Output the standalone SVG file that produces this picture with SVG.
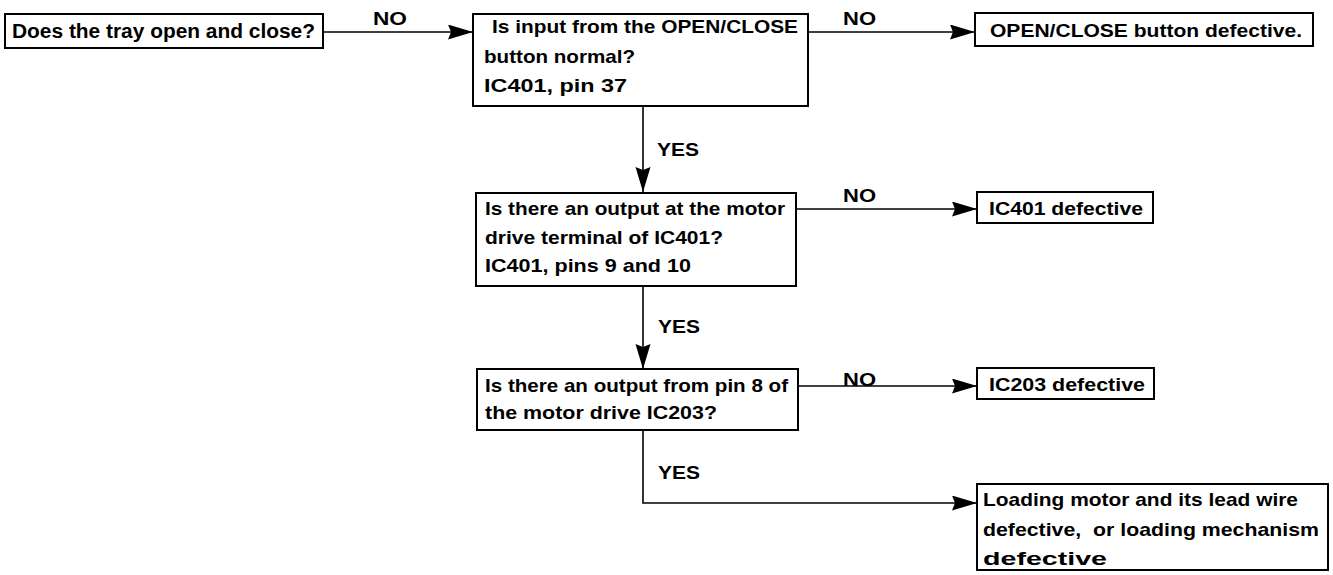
<svg xmlns="http://www.w3.org/2000/svg" width="1333" height="575" viewBox="0 0 1333 575">
<style>
.box{fill:#fff;stroke:#000;stroke-width:2}
.t{font-family:"Liberation Sans",Arial,sans-serif;font-weight:bold;font-size:19px;fill:#000}
.t1{font-size:20px}
.pre{white-space:pre}
.c{fill:none;stroke:#000;stroke-width:1.6}
</style>
<defs>
<marker id="ah" markerUnits="userSpaceOnUse" markerWidth="26" markerHeight="16" refX="25" refY="7.5" orient="auto">
<path d="M0,0 L25,7.5 L0,15 L3,7.5 z" fill="#000"/>
</marker>
</defs>
<rect width="1333" height="575" fill="#fff"/>
<g id="connectors">
<line class="c" x1="323" y1="32" x2="473" y2="32" marker-end="url(#ah)"/>
<line class="c" x1="808" y1="32" x2="975" y2="32" marker-end="url(#ah)"/>
<line class="c" x1="643" y1="106" x2="643" y2="192" marker-end="url(#ah)"/>
<line class="c" x1="796" y1="209" x2="977" y2="209" marker-end="url(#ah)"/>
<line class="c" x1="643" y1="286" x2="643" y2="369" marker-end="url(#ah)"/>
<line class="c" x1="798" y1="386" x2="977" y2="386" marker-end="url(#ah)"/>
<polyline class="c" points="643,430 643,503 977,503" marker-end="url(#ah)"/>
<text class="t" x="373" y="25" textLength="34" lengthAdjust="spacingAndGlyphs">NO</text>
<text class="t" x="843" y="25" textLength="33" lengthAdjust="spacingAndGlyphs">NO</text>
<text class="t" x="657" y="156" textLength="42" lengthAdjust="spacingAndGlyphs">YES</text>
<text class="t" x="843" y="202" textLength="33" lengthAdjust="spacingAndGlyphs">NO</text>
<text class="t" x="658" y="333" textLength="42" lengthAdjust="spacingAndGlyphs">YES</text>
<text class="t" x="843" y="386" textLength="33" lengthAdjust="spacingAndGlyphs">NO</text>
<text class="t" x="658" y="479" textLength="42" lengthAdjust="spacingAndGlyphs">YES</text>
</g>
<g id="n1">
<rect class="box" x="5" y="14" width="318" height="34"/>
<text class="t t1" x="12" y="38" textLength="303" lengthAdjust="spacingAndGlyphs">Does the tray open and close?</text>
</g>
<g id="n2">
<rect class="box" x="473" y="14" width="335" height="92"/>
<text class="t" x="492" y="33" textLength="306" lengthAdjust="spacingAndGlyphs">Is input from the OPEN/CLOSE</text>
<text class="t" x="484" y="63" textLength="151" lengthAdjust="spacingAndGlyphs">button normal?</text>
<text class="t" x="484" y="92" textLength="143" lengthAdjust="spacingAndGlyphs">IC401, pin 37</text>
</g>
<g id="n3">
<rect class="box" x="975" y="13" width="338" height="33"/>
<text class="t" x="990" y="37" textLength="312" lengthAdjust="spacingAndGlyphs">OPEN/CLOSE button defective.</text>
</g>
<g id="n4">
<rect class="box" x="476" y="193" width="320" height="93"/>
<text class="t" x="485" y="215" textLength="300" lengthAdjust="spacingAndGlyphs">Is there an output at the motor</text>
<text class="t" x="485" y="244" textLength="238" lengthAdjust="spacingAndGlyphs">drive terminal of IC401?</text>
<text class="t" x="485" y="272" textLength="206" lengthAdjust="spacingAndGlyphs">IC401, pins 9 and 10</text>
</g>
<g id="n5">
<rect class="box" x="977" y="192" width="176" height="31"/>
<text class="t" x="989" y="215" textLength="154" lengthAdjust="spacingAndGlyphs">IC401 defective</text>
</g>
<g id="n6">
<rect class="box" x="477" y="369" width="321" height="61"/>
<text class="t" x="485" y="392" textLength="303" lengthAdjust="spacingAndGlyphs">Is there an output from pin 8 of</text>
<text class="t" x="485" y="419" textLength="232" lengthAdjust="spacingAndGlyphs">the motor drive IC203?</text>
</g>
<g id="n7">
<rect class="box" x="977" y="368" width="177" height="31"/>
<text class="t" x="989" y="391" textLength="156" lengthAdjust="spacingAndGlyphs">IC203 defective</text>
</g>
<g id="n8">
<rect class="box" x="977" y="484" width="351" height="86"/>
<text class="t" x="983" y="506" textLength="315" lengthAdjust="spacingAndGlyphs">Loading motor and its lead wire</text>
<text class="t pre" x="983" y="536" textLength="336" lengthAdjust="spacingAndGlyphs">defective,  or loading mechanism</text>
<text class="t" x="983" y="565" textLength="124" lengthAdjust="spacingAndGlyphs">defective</text>
</g>
</svg>
